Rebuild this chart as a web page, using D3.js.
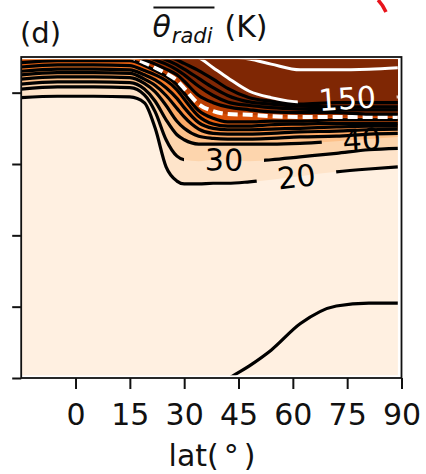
<!DOCTYPE html>
<html>
<head>
<meta charset="utf-8">
<script src="https://cdn.jsdelivr.net/npm/d3@7"></script>
<style>
body { margin: 0; background: #fff; }
svg { display: block; font-family: "DejaVu Sans", sans-serif; }
</style>
</head>
<body>
<div id="chart"></div>
<script>

// latitude samples along each contour (deg)
var lats = [-15, -5, 5, 15, 19, 22, 25, 28, 30, 34, 38, 42, 48, 54, 62, 72, 81, 89];

// contour levels (K) and the height of each contour at the latitudes above
var levels = [10, 20, 30, 40, 50, 60, 70, 80, 90, 100, 110, 120, 130, 140, 150, 200];

var theta10  = [-2.4, -2.4, -2.4, -2.4, -2.4, -2.4, -2.4, -2.4, -2.4, -2.2, -2.0, -0.2, 1.7, 3.9, 7.6, 10.1, 10.5, 10.5];
var theta20  = [39.3, 39.5, 39.5, 39.4, 38.6, 35.0, 29.6, 27.6, 27.2, 27.2, 27.3, 27.3, 27.5, 27.8, 28.3, 28.9, 29.3, 29.6];
var theta30  = [40.5, 40.8, 40.8, 40.7, 39.7, 37.3, 33.4, 31.1, 30.6, 30.4, 30.6, 30.6, 30.4, 30.6, 31.0, 31.5, 32.0, 32.2];
var theta40  = [41.2, 41.5, 41.5, 41.4, 40.5, 38.8, 36.2, 34.1, 33.4, 32.8, 32.8, 32.8, 32.8, 32.8, 32.9, 33.2, 33.5, 33.8];
var theta50  = [41.9, 42.2, 42.2, 42.1, 41.3, 40.1, 38.2, 36.0, 35.0, 33.9, 33.6, 33.5, 33.5, 33.6, 33.8, 33.9, 34.2, 34.3];
var theta60  = [42.5, 42.8, 42.8, 42.7, 41.9, 41.0, 39.6, 37.8, 36.6, 34.9, 34.3, 34.2, 34.2, 34.3, 34.5, 34.6, 34.8, 34.9];
var theta70  = [43.0, 43.3, 43.3, 43.2, 42.5, 41.8, 40.7, 39.2, 37.9, 35.8, 35.0, 34.8, 34.8, 34.9, 35.0, 35.2, 35.3, 35.3];
var theta80  = [43.6, 43.9, 43.9, 43.8, 43.1, 42.5, 41.7, 40.4, 39.1, 36.7, 35.6, 35.3, 35.3, 35.5, 35.6, 35.7, 35.7, 35.7];
var theta90  = [44.2, 44.5, 44.5, 44.5, 43.8, 43.1, 42.3, 41.1, 39.9, 37.5, 36.4, 35.9, 35.9, 36.0, 36.0, 36.2, 36.2, 36.2];
var theta100 = [45.3, 45.6, 45.6, 45.0, 44.2, 43.5, 42.7, 41.7, 40.6, 38.4, 37.4, 37.0, 36.9, 36.7, 36.6, 36.6, 36.6, 36.6];
var theta110 = [46.0, 46.0, 46.0, 45.5, 44.6, 44.0, 43.3, 42.5, 41.6, 39.6, 38.6, 38.0, 37.6, 37.3, 37.2, 37.2, 37.0, 37.0];
var theta120 = [46.3, 46.3, 46.3, 46.0, 45.3, 44.6, 44.0, 43.2, 42.5, 40.9, 39.6, 38.7, 38.2, 37.9, 37.7, 37.6, 37.6, 37.6];
var theta130 = [46.5, 46.5, 46.5, 46.3, 45.8, 45.2, 44.6, 43.9, 43.3, 42.0, 40.7, 39.6, 38.7, 38.4, 38.1, 38.0, 38.0, 38.0];
var theta140 = [46.8, 46.8, 46.8, 46.5, 46.2, 45.7, 45.2, 44.6, 44.1, 43.1, 41.9, 40.6, 39.3, 38.8, 38.4, 38.6, 38.6, 38.6];
var theta150 = [47.1, 47.1, 47.1, 46.8, 46.5, 46.3, 46.0, 45.7, 45.4, 44.9, 43.5, 42.1, 40.2, 39.3, 38.7, 39.1, 39.4, 39.4];
var theta200 = [47.4, 47.4, 47.4, 47.4, 47.1, 46.8, 46.5, 46.3, 46.0, 45.7, 45.4, 45.1, 44.7, 44.0, 43.2, 43.2, 43.3, 43.5];

var contours = [theta10, theta20, theta30, theta40, theta50, theta60, theta70, theta80,
                theta90, theta100, theta110, theta120, theta130, theta140, theta150, theta200];

// inline contour labels
var labelLevels = [20, 30, 40, 150];
var labelLats = [61, 41, 79, 75];

var xTicks = [0, 15, 30, 45, 60, 75, 90];
var yTicks = [0, 10, 20, 30, 40];

var width = 426;
var height = 474;

var svg = d3.select("#chart")
	.append("svg")
	.attr("width", width)
	.attr("height", height);

var x = d3.scaleLinear().domain([-15, 90]).range([21.2, 401.5]);
var y = d3.scaleLinear().domain([0, 45]).range([378, 57]);

var color = d3.scaleSequential(d3.interpolateOranges).domain([5, 120]).clamp(true);

var defs = svg.append("defs");

// the data grid stops a little short of the axes frame
defs.append("clipPath")
	.attr("id", "dataclip")
	.append("rect")
	.attr("x", x(-15))
	.attr("y", y(44.6))
	.attr("width", x(89) - x(-15))
	.attr("height", y(0.4) - y(44.6));

var plot = svg.append("g").attr("clip-path", "url(#dataclip)");

plot.append("rect")
	.attr("x", x(-15))
	.attr("y", y(50))
	.attr("width", x(90) - x(-15))
	.attr("height", y(-5) - y(50))
	.attr("fill", color(levels[0]));

var area = d3.area()
	.x(function(d, i) { return x(lats[i]); })
	.y0(function(d) { return y(d); })
	.y1(y(50))
	.curve(d3.curveMonotoneX);

var line = d3.line()
	.x(function(d, i) { return x(lats[i]); })
	.y(function(d) { return y(d); })
	.curve(d3.curveMonotoneX);

plot.selectAll(".band")
	.data(contours)
	.enter()
	.append("path")
	.attr("class", "band")
	.attr("d", area)
	.attr("fill", function(d, i) { return color(levels[i]); });

// label geometry
function yAt(vals, lat) {
	var j = d3.bisectRight(lats, lat) - 1;
	j = Math.max(0, Math.min(lats.length - 2, j));
	var t = (lat - lats[j]) / (lats[j + 1] - lats[j]);
	return y(vals[j] + t * (vals[j + 1] - vals[j]));
}

var labels = labelLevels.map(function(lev, k) {
	var vals = contours[levels.indexOf(lev)];
	var lat = labelLats[k];
	var dy = yAt(vals, lat + 4) - yAt(vals, lat - 4);
	var dx = x(lat + 4) - x(lat - 4);
	return {
		level: lev,
		cx: x(lat),
		cy: yAt(vals, lat),
		angle: Math.atan2(dy, dx) * 180 / Math.PI,
		w: String(lev).length * 19 + 42
	};
});

labels.forEach(function(lb) {
	var m = defs.append("mask")
		.attr("id", "gap" + lb.level)
		.attr("maskUnits", "userSpaceOnUse")
		.attr("x", 0).attr("y", 0)
		.attr("width", width).attr("height", height);
	m.append("rect")
		.attr("width", width).attr("height", height)
		.attr("fill", "white");
	m.append("rect")
		.attr("x", -lb.w / 2).attr("y", -9)
		.attr("width", lb.w).attr("height", 18)
		.attr("fill", "black")
		.attr("transform", "translate(" + lb.cx + "," + lb.cy + ") rotate(" + lb.angle + ")");
});

var whiteLevels = [100, 150, 200];

plot.selectAll(".contour")
	.data(contours)
	.enter()
	.append("path")
	.attr("class", "contour")
	.attr("d", line)
	.attr("fill", "none")
	.attr("stroke", function(d, i) { return whiteLevels.indexOf(levels[i]) >= 0 ? "white" : "black"; })
	.attr("stroke-width", function(d, i) { return levels[i] === 100 ? 4 : (levels[i] >= 150 ? 3 : 3.2); })
	.attr("stroke-dasharray", function(d, i) { return levels[i] === 100 ? "10,5" : null; })
	.attr("mask", function(d, i) {
		return labelLevels.indexOf(levels[i]) >= 0 ? "url(#gap" + levels[i] + ")" : null;
	});

svg.selectAll(".clabel")
	.data(labels)
	.enter()
	.append("text")
	.attr("class", "clabel")
	.attr("transform", function(d) {
		return "translate(" + d.cx + "," + d.cy + ") rotate(" + d.angle + ")";
	})
	.attr("text-anchor", "middle")
	.attr("dy", "0.36em")
	.style("font-size", "30px")
	.attr("fill", function(d) { return d.level >= 150 ? "white" : "black"; })
	.text(function(d) { return d.level; });

// axes
var yAxis = d3.axisLeft(y).tickValues(yTicks).tickSize(9).tickFormat("");
var xAxis = d3.axisBottom(x).tickValues(xTicks).tickSize(11).tickPadding(15);

var yg = svg.append("g")
	.attr("transform", "translate(" + x(-15) + ",0)")
	.call(yAxis);
yg.select(".domain").remove();
yg.selectAll(".tick line").attr("stroke", "#111").attr("stroke-width", 2);

var xg = svg.append("g")
	.attr("transform", "translate(0," + y(0) + ")")
	.call(xAxis);
xg.select(".domain").remove();
xg.selectAll(".tick line").attr("stroke", "#111").attr("stroke-width", 2);
xg.selectAll(".tick text")
	.attr("font-family", "DejaVu Sans")
	.attr("font-size", 30)
	.attr("fill", "#111");

svg.append("rect")
	.attr("x", x(-15))
	.attr("y", y(45))
	.attr("width", x(90) - x(-15))
	.attr("height", y(0) - y(45))
	.attr("fill", "none")
	.attr("stroke", "#111")
	.attr("stroke-width", 1.8);

// titles
svg.append("text")
	.attr("x", 20)
	.attr("y", 43)
	.style("font-size", "29px")
	.attr("fill", "#111")
	.text("(d)");

var tTheta = svg.append("text")
	.attr("y", 37)
	.style("font-size", "30px")
	.style("font-style", "italic")
	.attr("fill", "#111")
	.text("θ");
var tSub = svg.append("text")
	.attr("y", 43)
	.style("font-size", "21px")
	.style("font-style", "italic")
	.attr("fill", "#111")
	.text("radi");
var tUnit = svg.append("text")
	.attr("y", 37)
	.style("font-size", "30px")
	.attr("fill", "#111")
	.text("(K)");

var wTheta = tTheta.node().getComputedTextLength();
var wSub = tSub.node().getComputedTextLength();
var wUnit = tUnit.node().getComputedTextLength();
var x0 = 210 - (wTheta + 1 + wSub + 12 + wUnit) / 2;
tTheta.attr("x", x0);
tSub.attr("x", x0 + wTheta + 1);
tUnit.attr("x", x0 + wTheta + 1 + wSub + 12);

svg.append("line")
	.attr("x1", x0 + 1)
	.attr("x2", x0 + wTheta + 1 + wSub + 2)
	.attr("y1", 7.5)
	.attr("y2", 7.5)
	.attr("stroke", "#111")
	.attr("stroke-width", 2);

var xl = svg.append("text")
	.attr("x", 212)
	.attr("y", 466)
	.attr("text-anchor", "middle")
	.style("font-size", "30px")
	.attr("fill", "#111");
xl.append("tspan").text("lat(");
xl.append("tspan").attr("dx", 5).text("°");
xl.append("tspan").attr("dx", 5).text(")");

// stray red stroke at the top right of the crop
svg.append("path")
	.attr("d", "M378,0 Q383,5 386,12")
	.attr("fill", "none")
	.attr("stroke", "#e8141c")
	.attr("stroke-width", 3.5);

</script>
</body>
</html>
